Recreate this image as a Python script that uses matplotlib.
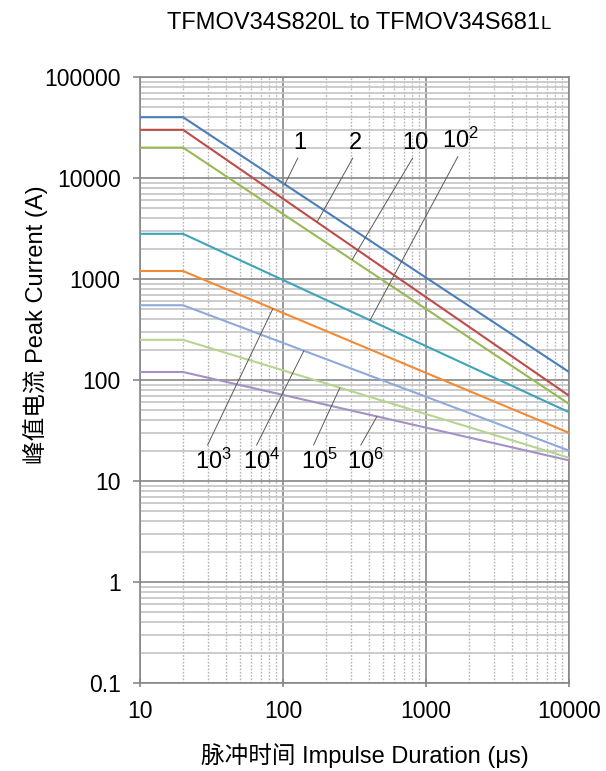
import numpy as np
import matplotlib
matplotlib.use("Agg")
import matplotlib.pyplot as plt
from matplotlib.ticker import LogLocator, NullFormatter, FixedLocator

plt.rcParams['font.family'] = ['Liberation Sans', 'Noto Sans CJK SC', 'DejaVu Sans']
plt.rcParams['mathtext.fontset'] = 'custom'
plt.rcParams['mathtext.rm'] = 'Liberation Sans'

# --------------------------------
# Data
# --------------------------------
durations = [10, 20, 10000]          # impulse duration, us

peak_1 = [40000, 40000, 120]
peak_2 = [30000, 30000, 70]
peak_10 = [20000, 20000, 58]
peak_1e2 = [2800, 2800, 48]
peak_1e3 = [1200, 1200, 30]
peak_1e4 = [550, 550, 20]
peak_1e5 = [250, 250, 17]
peak_1e6 = [120, 120, 16]

series = [peak_1, peak_2, peak_10, peak_1e2, peak_1e3, peak_1e4, peak_1e5, peak_1e6]
colors = ['#4A7EBB', '#BE4B48', '#98B954', '#3FA3BA',
          '#F28A35', '#8FAADA', '#B6D58F', '#A393C5']

labels = ['1', '2', '10', r'$\mathregular{10^2}$',
          r'$\mathregular{10^3}$', r'$\mathregular{10^4}$',
          r'$\mathregular{10^5}$', r'$\mathregular{10^6}$']
# x where leader line touches the curve, and label position (data coords)
leader_x = [103, 173, 304, 406, 85, 140, 250, 454]
label_pos = [(131, 22200), (319, 22200), (838, 22200), (1730, 23800),
             (32.4, 15.5), (71.3, 15.5), (178.6, 15.5), (380, 15.5)]


def on_curve(x, xs, ys):
    return 10 ** np.interp(np.log10(x), np.log10(xs), np.log10(ys))


# --------------------------------
# Plot
# --------------------------------
fig = plt.figure(figsize=(6.06, 7.71), dpi=100)
ax = fig.add_axes([140 / 606, 1 - 683 / 771, 429 / 606, 606 / 771])

for ys, c in zip(series, colors):
    ax.plot(durations, ys, color=c, linewidth=1.5, zorder=3)

ax.set_xscale('log')
ax.set_yscale('log')
ax.set_xlim(10, 10000)
ax.set_ylim(0.1, 100000)

ax.xaxis.set_major_locator(FixedLocator([10, 100, 1000, 10000]))
ax.yaxis.set_major_locator(FixedLocator([0.1, 1, 10, 100, 1000, 10000, 100000]))
ax.set_xticklabels(['10', '100', '1000', '10000'])
ax.set_yticklabels(['0.1', '1', '10', '100', '1000', '10000', '100000'])
ax.xaxis.set_minor_locator(LogLocator(base=10, subs=np.arange(2, 10), numticks=20))
ax.yaxis.set_minor_locator(LogLocator(base=10, subs=np.arange(2, 10), numticks=20))
ax.xaxis.set_minor_formatter(NullFormatter())
ax.yaxis.set_minor_formatter(NullFormatter())

ax.grid(which='major', axis='both', color='#878787', linewidth=1.2, zorder=1)
ax.grid(which='minor', axis='y', color='#C4C4C4', linewidth=1.2, zorder=1)
ax.grid(which='minor', axis='x', color='#B5B5B5', linewidth=1.0,
        linestyle=(0, (1.2, 1.2)), zorder=1)
ax.set_axisbelow(True)

for sp in ax.spines.values():
    sp.set_color('#878787')
    sp.set_linewidth(1.2)

ax.tick_params(axis='y', which='major', direction='out', length=5, width=1.2,
               color='#878787', labelsize=16.5, pad=9)
ax.tick_params(axis='x', which='major', direction='inout', length=6, width=1.2,
               color='#878787', labelsize=16.5, pad=9)
ax.tick_params(which='minor', length=0)

# curve labels with leader lines
for i, (lab, lx, (tx, ty)) in enumerate(zip(labels, leader_x, label_pos)):
    ly = on_curve(lx, durations, series[i])
    top = i < 4
    ax.annotate(lab, xy=(lx, ly), xytext=(tx, ty), fontsize=17,
                ha='center', va='center', zorder=4,
                arrowprops=dict(arrowstyle='-', color='#5A5A5A', linewidth=0.7,
                                shrinkA=1, shrinkB=0,
                                relpos=(0.5, 0.0) if top else (0.3, 1.0)))

# title with the smaller trailing L
fig.text(540 / 606, 1 - 29 / 771, 'TFMOV34S820L to TFMOV34S681',
         ha='right', va='baseline', fontsize=17)
fig.text(540 / 606, 1 - 29 / 771, 'L', ha='left', va='baseline', fontsize=13.5)

fig.text(36 / 606, 1 - 325 / 771, '峰值电流 Peak Current (A)', rotation=90,
         ha='center', va='center', fontsize=17)
fig.text(365 / 606, 1 - 756 / 771, '脉冲时间 Impulse Duration (μs)',
         ha='center', va='center', fontsize=17)

fig.savefig('out.png', dpi=100)
